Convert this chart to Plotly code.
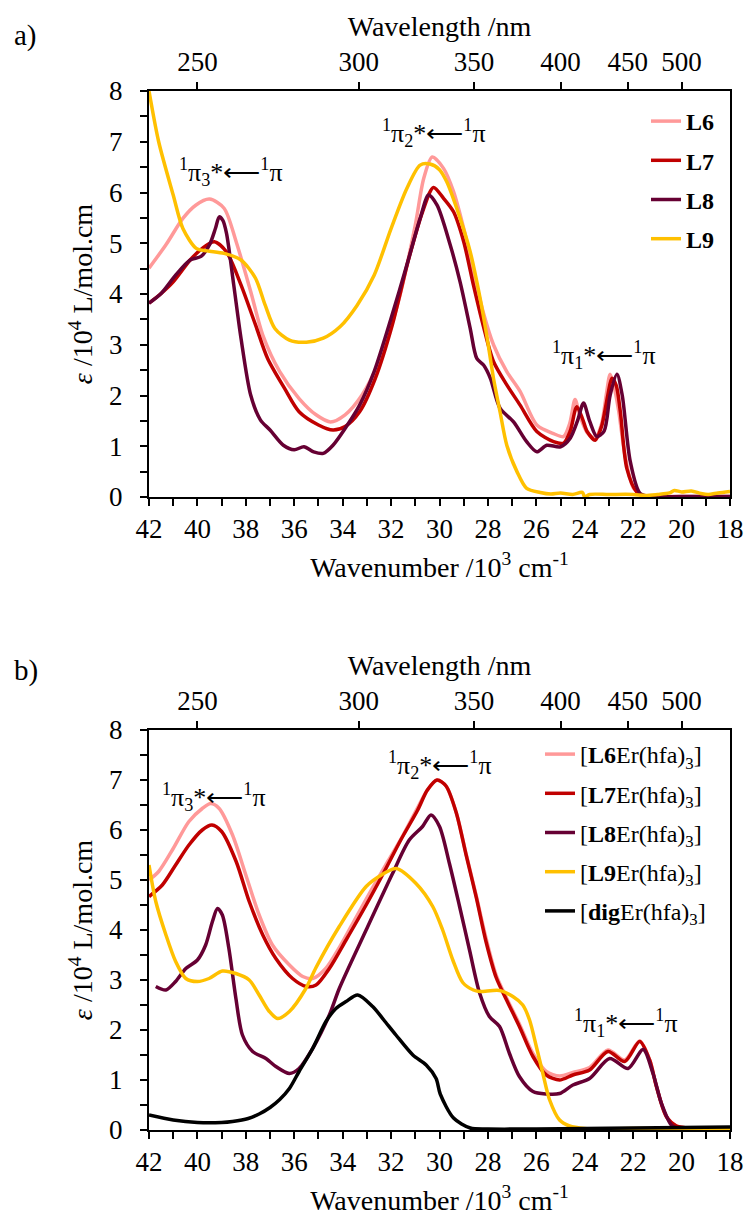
import plotly.graph_objects as go

# ---------------- data (wavenumber /10^3 cm^-1, epsilon /10^4 L/mol.cm) ----------------
# Panel a
L6a_w = [42, 41.3, 40.6, 40.07, 39.5, 38.9, 38.4, 37.8, 37.3, 36.6, 35.8, 35.1, 34.5, 33.9, 33.2, 32.5,
         31.7, 31.0, 30.65, 30.3, 29.84, 29.42, 29.0, 28.6, 28.2, 27.77, 27.22, 26.67, 25.98, 25.29,
         24.88, 24.62, 24.4, 24.2, 23.9, 23.57, 23.3, 23.1, 22.95, 22.8, 22.6, 22.33, 21.98, 21.57, 20, 18]
L6a_v = [4.51, 4.97, 5.49, 5.75, 5.87, 5.69, 5.03, 4.05, 3.19, 2.47, 1.94, 1.62, 1.48, 1.62, 2.01, 2.67,
         3.85, 5.36, 6.28, 6.7, 6.48, 6.02, 5.29, 4.44, 3.65, 3.0, 2.47, 2.08, 1.42, 1.25,
         1.19, 1.45, 1.92, 1.6, 1.27, 1.16, 1.45, 2.05, 2.42, 2.2, 1.7, 0.8, 0.17, 0.03, 0.01, 0.01]

L7a_w = [42, 41.5, 41.0, 40.3, 39.8, 39.3, 38.8, 38.2, 37.6, 37.1, 36.4, 35.8, 35.0, 34.4, 33.9, 33.3,
         32.65, 31.95, 31.3, 30.7, 30.25, 29.84, 29.42, 29.0, 28.6, 28.2, 27.77, 27.22, 26.67, 25.98,
         25.29, 24.88, 24.6, 24.33, 24.1, 23.9, 23.57, 23.3, 23.05, 22.88, 22.7, 22.53, 22.26, 21.85,
         21.43, 20, 18]
L7a_v = [3.82, 4.01, 4.24, 4.67, 4.9, 5.03, 4.83, 4.18, 3.39, 2.73, 2.14, 1.68, 1.42, 1.32, 1.39, 1.68,
         2.34, 3.39, 4.64, 5.62, 6.1, 5.89, 5.62, 5.03, 4.18, 3.39, 2.67, 2.21, 1.81, 1.29,
         1.09, 1.06, 1.3, 1.78, 1.55, 1.29, 1.12, 1.4, 2.0, 2.34, 2.2, 1.68, 0.56, 0.1,
         0.0, 0.0, 0.0]

L8a_w = [42, 41.5, 40.9, 40.3, 39.85, 39.5, 39.25, 39.1, 38.95, 38.8, 38.5, 38.2, 37.8, 37.4, 37.0,
         36.45, 36.0, 35.6, 35.2, 34.8, 34.4, 33.9, 33.3, 32.7, 32.0, 31.35, 30.8, 30.45, 30.1, 29.56,
         29.15, 28.73, 28.46, 28.18, 27.9, 27.5, 26.94, 26.4, 25.98, 25.57, 25.0, 24.6, 24.3, 24.05,
         23.8, 23.5, 23.2, 22.95, 22.67, 22.45, 22.12, 21.71, 21.16, 20, 18]
L8a_v = [3.82, 4.01, 4.37, 4.67, 4.74, 4.97, 5.3, 5.52, 5.45, 5.2, 4.18, 3.13, 2.01, 1.52, 1.32,
         1.02, 0.93, 0.99, 0.89, 0.86, 1.02, 1.35, 1.81, 2.47, 3.52, 4.57, 5.49, 5.95, 5.75, 4.97,
         4.24, 3.32, 2.73, 2.6, 2.34, 1.75, 1.48, 1.09, 0.89, 1.02, 0.99, 1.16, 1.5, 1.85,
         1.5, 1.19, 1.3, 2.01, 2.42, 2.0, 0.7, 0.07, 0.01, 0.01, 0.01]

L9a_w = [42, 41.6, 41.0, 40.6, 40.05, 39.6, 38.9, 38.2, 37.6, 37.2, 36.8, 36.2, 35.5, 34.8, 34.1, 33.4,
         32.7, 32.0, 31.35, 30.8, 30.4, 30.0, 29.7, 29.15, 28.73, 28.32, 28.05, 27.77, 27.5, 27.22,
         26.8, 26.4, 25.84, 25.4, 25.0, 24.5, 24.1, 24.0, 23.8, 23.0, 22.0, 21.5, 21.0, 20.5, 20.3,
         20.0, 19.6, 19.2, 18.9, 18.5, 18.0]
L9a_v = [8.0, 7.0, 5.95, 5.29, 4.9, 4.85, 4.8, 4.67, 4.31, 3.78, 3.32, 3.09, 3.05, 3.13, 3.36, 3.78,
         4.37, 5.29, 6.08, 6.54, 6.56, 6.45, 6.21, 5.49, 4.83, 3.91, 3.19, 2.34, 1.68, 1.02,
         0.5, 0.17, 0.09, 0.06, 0.08, 0.05, 0.09, 0.0, 0.05, 0.05, 0.05, 0.03, 0.05, 0.08, 0.13,
         0.1, 0.12, 0.07, 0.05, 0.08, 0.11]

# Panel b
L6b_w = [42, 41.6, 41.0, 40.35, 39.8, 39.45, 39.1, 38.55, 38.0, 37.45, 36.9, 36.2, 35.65, 35.24, 34.7,
         34.1, 33.45, 32.76, 32.1, 31.5, 30.9, 30.5, 30.1, 29.73, 29.31, 28.9, 28.48, 28.07, 27.66,
         27.25, 26.7, 26.14, 25.59, 25.04, 24.49, 23.8, 23.04, 22.35, 21.73, 21.32, 21.04, 20.63,
         20.21, 19.5, 18.0]
L6b_v = [5.0, 5.17, 5.63, 6.17, 6.43, 6.53, 6.43, 5.9, 5.1, 4.3, 3.7, 3.3, 3.07, 3.03, 3.23,
         3.68, 4.25, 4.85, 5.4, 5.9, 6.45, 6.8, 7.0, 6.88, 6.35, 5.52, 4.68, 3.82, 3.1,
         2.66, 2.12, 1.53, 1.17, 1.08, 1.15, 1.25, 1.6, 1.4, 1.78, 1.4, 0.87, 0.27,
         0.08, 0.04, 0.03]

L7b_w = [42, 41.45, 40.9, 40.35, 39.8, 39.4, 39.0, 38.4, 37.86, 37.3, 36.76, 36.07, 35.5, 35.1, 34.55,
         33.86, 33.03, 32.3, 31.6, 30.9, 30.5, 30.1, 29.73, 29.31, 28.9, 28.48, 28.07, 27.66, 27.25,
         26.7, 26.14, 25.59, 25.04, 24.49, 23.8, 23.04, 22.35, 21.73, 21.32, 21.04, 20.63, 20.21,
         19.5, 18.0]
L7b_v = [4.67, 4.9, 5.3, 5.7, 6.0, 6.1, 5.97, 5.37, 4.57, 3.9, 3.43, 3.03, 2.87, 2.9, 3.23,
         3.8, 4.5, 5.15, 5.8, 6.4, 6.8, 7.0, 6.88, 6.35, 5.5, 4.65, 3.75, 3.05, 2.62,
         2.07, 1.47, 1.1, 1.0, 1.1, 1.2, 1.57, 1.37, 1.77, 1.4, 0.87, 0.27, 0.08,
         0.04, 0.03]

L8b_w = [41.72, 41.3, 40.9, 40.48, 40.0, 39.66, 39.38, 39.17, 38.97, 38.7, 38.41, 38.14, 37.72, 37.17,
         36.76, 36.2, 35.8, 35.24, 34.55, 34.14, 33.03, 31.94, 31.25, 30.7, 30.35, 30.0, 29.59,
         29.17, 28.76, 28.35, 27.94, 27.52, 27.11, 26.7, 26.14, 25.59, 25.04, 24.49, 23.8, 22.97,
         22.21, 21.59, 21.18, 20.83, 20.42, 20.07, 19.0, 18.0]
L8b_v = [2.87, 2.8, 2.97, 3.23, 3.4, 3.7, 4.17, 4.43, 4.3, 3.63, 2.63, 1.9, 1.57, 1.43,
         1.27, 1.13, 1.23, 1.63, 2.3, 2.83, 4.0, 5.13, 5.8, 6.07, 6.3, 6.07, 5.33,
         4.47, 3.6, 2.75, 2.27, 2.07, 1.53, 1.07, 0.77, 0.72, 0.73, 0.9, 1.03, 1.43,
         1.23, 1.61, 1.13, 0.53, 0.1, 0.02, 0.0, 0.0]

L9b_w = [42, 41.72, 41.3, 40.9, 40.48, 40.0, 39.52, 38.97, 38.41, 37.86, 37.45, 37.03, 36.69, 36.2,
         35.52, 35.1, 34.14, 33.03, 32.4, 31.79, 30.97, 30.28, 29.87, 29.45, 29.04, 28.6, 28.35,
         27.52, 26.97, 26.56, 26.28, 26.0, 25.73, 25.45, 25.04, 24.63, 24.0, 22.0, 20.0, 18.0]
L9b_v = [5.3, 4.57, 3.9, 3.37, 3.03, 2.97, 3.03, 3.18, 3.13, 3.0, 2.7, 2.37, 2.23, 2.37,
         2.83, 3.25, 4.07, 4.87, 5.1, 5.23, 4.93, 4.47, 4.0, 3.4, 2.95, 2.8, 2.77,
         2.79, 2.67, 2.5, 2.2, 1.67, 1.13, 0.6, 0.2, 0.08, 0.03, 0.03, 0.03, 0.03]

DIGb_w = [42, 41, 40, 39, 38.55, 37.9, 37.45, 37.0, 36.6, 36.2, 35.8, 35.24, 34.69, 34.28, 33.86,
          33.38, 32.76, 32.3, 31.8, 31.1, 30.55, 30.14, 29.97, 29.42, 28.73, 28.0, 26.0, 24.0,
          22.0, 20.0, 18.0]
DIGb_v = [0.3, 0.2, 0.15, 0.15, 0.17, 0.23, 0.32, 0.45, 0.61, 0.83, 1.17, 1.63, 2.17, 2.43, 2.57,
          2.7, 2.47, 2.2, 1.9, 1.5, 1.3, 1.03, 0.72, 0.24, 0.04, 0.02, 0.02, 0.03,
          0.04, 0.05, 0.06]

# axis ticks / labels
WN_TICKS = [42, 40, 38, 36, 34, 32, 30, 28, 26, 24, 22, 20, 18]
WL_TICKS = [250, 300, 350, 400, 450, 500]
Y_TICKS = [0, 1, 2, 3, 4, 5, 6, 7, 8]

names_a = ["<b>L6</b>", "<b>L7</b>", "<b>L8</b>", "<b>L9</b>"]
names_b = ["[<b>L6</b>Er(hfa)<sub>3</sub>]", "[<b>L7</b>Er(hfa)<sub>3</sub>]",
           "[<b>L8</b>Er(hfa)<sub>3</sub>]", "[<b>L9</b>Er(hfa)<sub>3</sub>]",
           "[<b>dig</b>Er(hfa)<sub>3</sub>]"]

COLORS = ["#FF9999", "#C00000", "#660033", "#FFC000", "#000000"]

FONT = "Liberation Serif"
TICK_SIZE = 27
TITLE_SIZE = 28

fig = go.Figure()

series_a = [(L6a_w, L6a_v), (L7a_w, L7a_v), (L8a_w, L8a_v), (L9a_w, L9a_v)]
for i, (w, v) in enumerate(series_a):
    fig.add_trace(go.Scatter(x=w, y=v, mode="lines", name=names_a[i],
                             line=dict(color=COLORS[i], width=3.5, shape="spline", smoothing=0.8),
                             xaxis="x", yaxis="y", legend="legend", legendgroup="a%d" % i))

series_b = [(L6b_w, L6b_v), (L7b_w, L7b_v), (L8b_w, L8b_v), (L9b_w, L9b_v), (DIGb_w, DIGb_v)]
for i, (w, v) in enumerate(series_b):
    fig.add_trace(go.Scatter(x=w, y=v, mode="lines", name=names_b[i],
                             line=dict(color=COLORS[i], width=3.5, shape="spline", smoothing=0.8),
                             xaxis="x3", yaxis="y2", legend="legend2", legendgroup="b%d" % i))

# empty traces so that the secondary (wavelength) axes get drawn
for xa, ya in (("x2", "y"), ("x4", "y2")):
    fig.add_trace(go.Scatter(x=[], y=[], mode="lines", xaxis=xa, yaxis=ya,
                             showlegend=False, hoverinfo="skip"))

W, H = 748, 1218
XDOM = [149 / W, 730 / W]
YDOM_A = [1 - 497 / H, 1 - 91 / H]
YDOM_B = [1 - 1130 / H, 1 - 730 / H]

tickfont = dict(family=FONT, size=TICK_SIZE, color="black")
titlefont = dict(family=FONT, size=TITLE_SIZE, color="black")

def bottom_axis(anchor):
    return dict(domain=XDOM, anchor=anchor, range=[42, 18], tickmode="array", tickvals=WN_TICKS,
                ticks="outside", ticklen=7, tickwidth=2, tickcolor="black", automargin=False,
                showline=True, linewidth=2, linecolor="black", showgrid=False, zeroline=False,
                tickfont=tickfont, ticklabelstandoff=0,
                minor=dict(dtick=1, tick0=18, ticks="outside", ticklen=7, tickwidth=2, tickcolor="black"),
                title=dict(text="Wavenumber /10<sup>3</sup> cm<sup>-1</sup>", font=titlefont, standoff=14))

def top_axis(overlay, anchor):
    return dict(domain=XDOM, overlaying=overlay, anchor=anchor, side="top", range=[42, 18],
                tickmode="array", tickvals=[1e4 / l for l in WL_TICKS], ticktext=[str(l) for l in WL_TICKS],
                ticks="outside", ticklen=7, tickwidth=2, tickcolor="black", automargin=False,
                showline=True, linewidth=2, linecolor="black", showgrid=False, zeroline=False,
                tickfont=tickfont, ticklabelstandoff=0,
                title=dict(text="Wavelength /nm", font=titlefont, standoff=2))

def y_axis(domain, anchor):
    return dict(domain=domain, anchor=anchor, range=[0, 8], tickmode="array", tickvals=Y_TICKS,
                ticks="outside", ticklen=7, tickwidth=2, tickcolor="black", automargin=False,
                showline=True, linewidth=2, linecolor="black", mirror=True,
                showgrid=False, zeroline=False, tickfont=tickfont, ticklabelstandoff=12,
                minor=dict(dtick=0.5, tick0=0, ticks="outside", ticklen=7, tickwidth=2, tickcolor="black"),
                title=dict(text="<i>ε</i> /10<sup>4</sup> L/mol.cm", font=titlefont, standoff=8))

ann_font = dict(family=FONT, size=26, color="black")
label = "<sup>1</sup>π<sub>%d</sub>*⟵<sup>1</sup>π"
annotations = [
    dict(text=label % 3, x=38.61, y=6.40, xref="x", yref="y", showarrow=False, font=ann_font),
    dict(text=label % 2, x=30.22, y=7.17, xref="x", yref="y", showarrow=False, font=ann_font),
    dict(text=label % 1, x=23.20, y=2.80, xref="x", yref="y", showarrow=False, font=ann_font),
    dict(text=label % 3, x=39.31, y=6.66, xref="x3", yref="y2", showarrow=False, font=ann_font),
    dict(text=label % 2, x=29.96, y=7.30, xref="x3", yref="y2", showarrow=False, font=ann_font),
    dict(text=label % 1, x=22.31, y=2.14, xref="x3", yref="y2", showarrow=False, font=ann_font),
    dict(text="a)", x=12 / W, y=1 - 35 / H, xref="paper", yref="paper", xanchor="left", yanchor="middle",
         showarrow=False, font=dict(family=FONT, size=29, color="black")),
    dict(text="b)", x=12 / W, y=1 - 670 / H, xref="paper", yref="paper", xanchor="left", yanchor="middle",
         showarrow=False, font=dict(family=FONT, size=29, color="black")),
]

legend_font = dict(family=FONT, size=24, color="black")
fig.update_layout(
    template="none",
    width=W, height=H,
    margin=dict(l=0, r=0, t=0, b=0, autoexpand=False),
    paper_bgcolor="white", plot_bgcolor="white",
    font=dict(family=FONT, color="black"),
    xaxis=bottom_axis("y"),
    xaxis2=top_axis("x", "y"),
    yaxis=y_axis(YDOM_A, "x"),
    xaxis3=bottom_axis("y2"),
    xaxis4=top_axis("x3", "y2"),
    yaxis2=y_axis(YDOM_B, "x3"),
    legend=dict(x=646 / W, y=1 - 99 / H, xanchor="left", yanchor="top", font=legend_font,
                bgcolor="rgba(0,0,0,0)", borderwidth=0, tracegroupgap=5, itemwidth=30),
    legend2=dict(x=540 / W, y=1 - 732 / H, xanchor="left", yanchor="top", font=legend_font,
                 bgcolor="rgba(0,0,0,0)", borderwidth=0, tracegroupgap=5, itemwidth=30),
    annotations=annotations,
    showlegend=True,
)

fig.write_html("out.html", config={"displayModeBar": False},
               post_script="document.body.style.margin='0';document.body.style.overflow='hidden';")
